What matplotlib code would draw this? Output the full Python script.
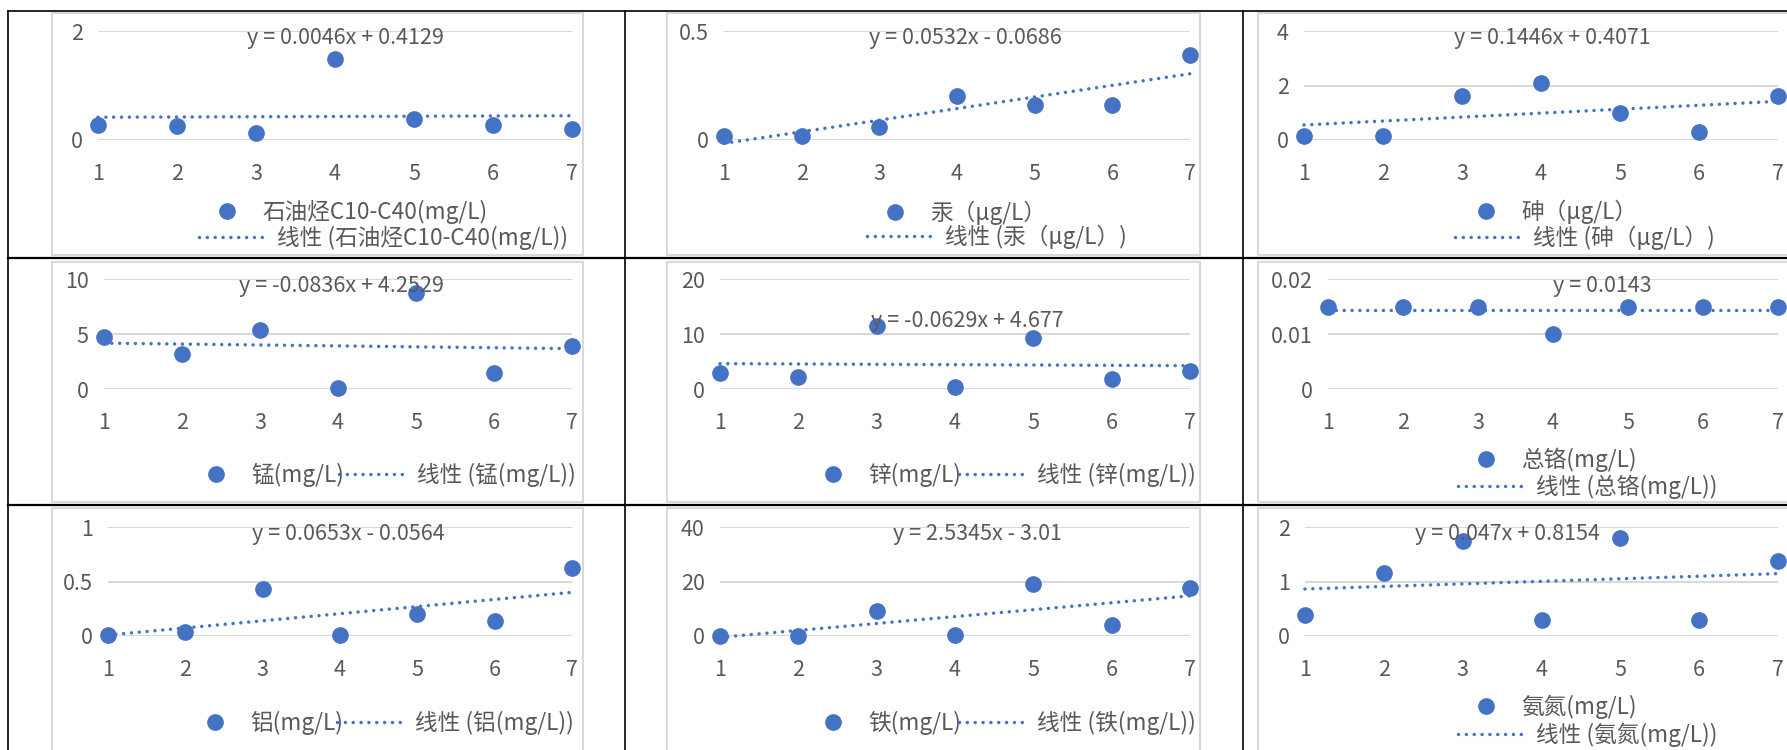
import numpy as np
import matplotlib.pyplot as plt
from matplotlib.lines import Line2D
from matplotlib.patches import Rectangle

plt.rcParams['font.family'] = ['Noto Sans CJK SC', 'DejaVu Sans']

W, H = 1787, 750
blue = '#4472C4'
grey = '#595959'
light = '#D9D9D9'

# data
x = [1, 2, 3, 4, 5, 6, 7]
names = ["石油烃C10-C40(mg/L)", "汞（μg/L）", "砷（μg/L）",
         "锰(mg/L)", "锌(mg/L)", "总铬(mg/L)",
         "铝(mg/L)", "铁(mg/L)", "氨氮(mg/L)"]
shiyouting = [0.28, 0.25, 0.13, 1.48, 0.39, 0.28, 0.21]
gong = [0.02, 0.02, 0.06, 0.2, 0.16, 0.16, 0.39]
shen = [0.15, 0.15, 1.6, 2.1, 1.0, 0.3, 1.6]
meng = [4.7, 3.2, 5.4, 0.05, 8.7, 1.5, 3.9]
xin = [2.9, 2.2, 11.4, 0.4, 9.2, 1.8, 3.3]
zongge = [0.015, 0.015, 0.015, 0.01, 0.015, 0.015, 0.015]
lv = [0.005, 0.035, 0.43, 0.005, 0.2, 0.14, 0.62]
tie = [0.05, 0.1, 9.1, 0.2, 19.2, 3.9, 17.7]
andan = [0.38, 1.15, 1.75, 0.3, 1.8, 0.3, 1.37]
series = [shiyouting, gong, shen, meng, xin, zongge, lv, tie, andan]

slopes = [0.0046, 0.0532, 0.1446, -0.0836, -0.0629, 0, 0.0653, 2.5345, 0.047]
intercepts = [0.4129, -0.0686, 0.4071, 4.2529, 4.677, 0.0143, -0.0564, -3.01, 0.8154]
yticks = [[0, 2], [0, 0.5], [0, 2, 4],
          [0, 5, 10], [0, 10, 20], [0, 0.01, 0.02],
          [0, 0.5, 1], [0, 20, 40], [0, 1, 2]]

# layout in pixels (from top-left)
plot_left = [98, 724, 1304, 104, 720, 1328, 108, 720, 1305]
plot_right = [572, 1190, 1778]
row_top = [31, 279, 527]
row_bottom = [140, 389, 636]
frame_x = [(52, 583), (667, 1200), (1258, 1791)]
frame_y = [(13, 255), (262, 502), (508, 760)]
eq_pos = [(345, 38), (965, 38), (1552, 38),
          (341, 286), (967, 321), (1602, 286),
          (348, 534), (977, 534), (1507, 534)]
leg_marker = [(227, 212), (895, 213), (1486, 212),
              (216, 475), (833, 475), (1486, 460),
              (215, 723), (833, 723), (1486, 707)]
leg_line = [(199, 238), (867, 237), (1455, 238),
            (339, 475), (959, 475), (1458, 487),
            (337, 723), (959, 723), (1458, 735)]

fs = 15.5
fs_leg = 16.3
hl_px = 66
leg_px = fs_leg * 100 / 72
dots = (0, (0.01, 2.25))
lw_trend = 2.5


def fx(v):
    return v / W


def fy(v):
    return 1 - v / H


fig = plt.figure(figsize=(W / 100, H / 100), dpi=100)

# table lines
for yy in [11, 258, 505]:
    fig.add_artist(Line2D([fx(8), 1], [fy(yy), fy(yy)], color='black',
                          lw=1.6 if yy > 11 else 1.2, transform=fig.transFigure))
for xx in [8, 625, 1243]:
    fig.add_artist(Line2D([fx(xx), fx(xx)], [fy(11), 0], color='black',
                          lw=1.2, transform=fig.transFigure))

for r in range(3):
    for c in range(3):
        x0, x1 = frame_x[c]
        y0, y1 = frame_y[r]
        fig.add_artist(Rectangle((fx(x0), fy(y1)), (x1 - x0) / W, (y1 - y0) / H,
                                 fill=False, edgecolor=light, lw=1.5,
                                 transform=fig.transFigure))

for i in range(9):
    r, c = divmod(i, 3)
    l, rr = plot_left[i], plot_right[c]
    t, b = row_top[r], row_bottom[r]
    ax = fig.add_axes([fx(l), fy(b), (rr - l) / W, (b - t) / H])
    ax.patch.set_visible(False)

    ax.scatter(x, series[i], s=121, color=blue, zorder=3, clip_on=False)
    xs = np.array([1, 7])
    ys = slopes[i] * xs + intercepts[i]
    ax.plot(xs, ys, color=blue, lw=lw_trend, linestyle=dots, dash_capstyle='round',
            zorder=2, clip_on=False)

    ax.set_xlim(1, 7)
    ax.set_ylim(yticks[i][0], yticks[i][-1])
    ax.set_xticks(x)
    ax.set_yticks(yticks[i])
    ax.set_yticklabels([f"{v:g}" for v in yticks[i]])
    ax.grid(axis='y', color=light, lw=1.5)
    ax.set_axisbelow(True)
    for s in ax.spines.values():
        s.set_visible(False)
    ax.tick_params(axis='both', length=0, labelsize=fs, labelcolor=grey)
    ax.tick_params(axis='y', pad=11)
    ax.tick_params(axis='x', pad=16.5)

    m, k = slopes[i], intercepts[i]
    if m == 0:
        eq = f"y = {k:g}"
    else:
        sign = "+" if k >= 0 else "-"
        eq = f"y = {m:g}x {sign} {abs(k):g}"
    ex, ey = eq_pos[i]
    ax.text(fx(ex), fy(ey), eq, transform=fig.transFigure, ha='center',
            va='center', fontsize=fs, color=grey, zorder=5)

    hm = Line2D([], [], marker='o', color=blue, linestyle='none', markersize=11)
    hline = Line2D([], [], color=blue, lw=lw_trend, linestyle=dots,
                   dash_capstyle='round')
    mx, my = leg_marker[i]
    leg1 = ax.legend([hm], [names[i]], loc='center left',
                     bbox_to_anchor=(fx(mx - hl_px / 2), fy(my)),
                     bbox_transform=fig.transFigure, frameon=False,
                     handlelength=hl_px / leg_px, handletextpad=2 / leg_px,
                     borderpad=0, borderaxespad=0, fontsize=fs_leg, labelcolor=grey)
    ax.add_artist(leg1)
    lx, ly = leg_line[i]
    ax.legend([hline], ["线性 (" + names[i] + ")"], loc='center left',
              bbox_to_anchor=(fx(lx), fy(ly)),
              bbox_transform=fig.transFigure, frameon=False,
              handlelength=hl_px / leg_px, handletextpad=12 / leg_px,
              borderpad=0, borderaxespad=0, fontsize=fs_leg, labelcolor=grey)

fig.savefig("out.png", dpi=100)
